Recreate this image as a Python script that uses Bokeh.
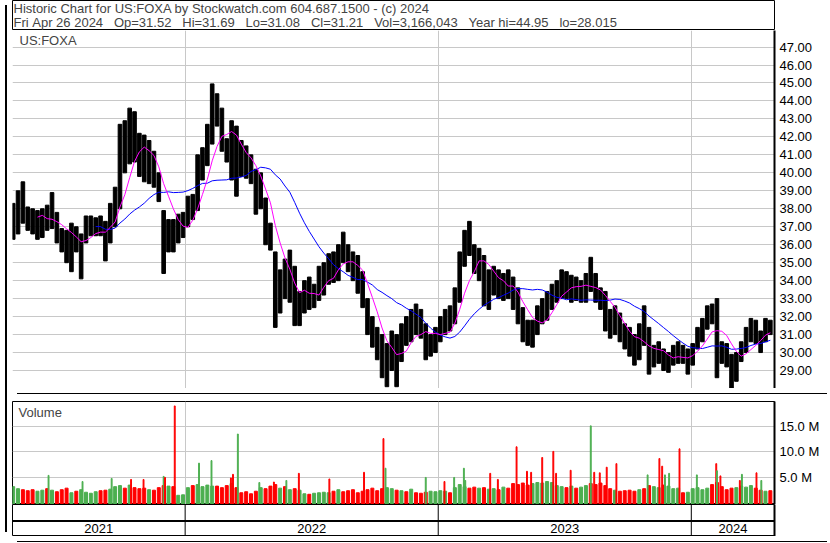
import pandas as pd
from bokeh.plotting import figure
from bokeh.models import Range1d, FixedTicker, PrintfTickFormatter, Label, Span, Div
from bokeh.layouts import column, row
from bokeh.core.properties import value
from bokeh.embed import file_html
from bokeh.resources import INLINE

# ---------------- data (weekly) ----------------
week_start = "2021-04-28"
high = [38.3, 39.0, 39.5, 38.1, 38.0, 37.9, 38.0, 38.2, 38.9, 37.8,
        36.9, 36.8, 37.2, 37.0, 36.6, 37.6, 37.6, 37.5, 37.6, 37.3,
        38.3, 39.2, 42.7, 42.9, 43.6, 43.4, 42.2, 42.1, 41.8, 41.2,
        40.0, 37.9, 37.4, 37.4, 37.7, 37.8, 38.7, 38.8, 41.0, 41.4,
        42.7, 44.95, 44.4, 43.6, 41.9, 42.9, 42.6, 41.8, 41.5, 41.0,
        40.2, 40.0, 38.6, 37.2, 35.6, 34.6, 35.2, 35.7, 34.8, 33.4,
        34.0, 34.2, 33.8, 34.8, 35.0, 35.5, 35.6, 36.0, 36.7, 36.0,
        35.6, 35.4, 34.5, 33.0, 32.0, 31.4, 31.0, 30.5, 31.2, 31.0,
        31.6, 32.0, 32.4, 32.7, 32.4, 31.6, 31.0, 31.4, 32.0, 32.4,
        32.6, 33.6, 35.6, 36.8, 37.3, 36.0, 35.8, 35.4, 34.6, 34.8,
        34.6, 34.4, 34.6, 34.2, 33.6, 32.5, 31.8, 31.8, 32.6, 33.0,
        33.4, 33.8, 34.0, 34.6, 34.5, 34.3, 34.2, 34.0, 34.4, 35.3,
        34.4, 33.6, 33.4, 32.4, 32.6, 32.2, 31.6, 31.4, 31.0, 31.6,
        32.6, 31.4, 30.4, 30.6, 30.2, 30.0, 30.4, 30.6, 30.4, 30.2,
        30.5, 31.4, 31.9, 32.6, 32.7, 33.0, 30.6, 30.5, 29.9, 30.0,
        30.6, 31.4, 31.9, 31.8, 31.2, 31.9, 31.8]
low = [36.3, 36.6, 37.2, 36.8, 36.6, 36.3, 36.4, 36.8, 36.9, 36.1,
       35.6, 35.0, 34.5, 35.6, 34.1, 36.1, 36.5, 36.5, 36.5, 35.1,
       36.1, 37.0, 38.0, 40.0, 40.5, 40.6, 39.8, 39.5, 39.4, 39.2,
       38.4, 34.4, 35.6, 35.6, 36.1, 36.4, 37.0, 37.4, 37.9, 39.6,
       40.4, 41.6, 42.6, 41.2, 40.6, 39.6, 38.7, 39.8, 39.7, 39.4,
       37.7, 38.0, 36.0, 35.7, 31.4, 32.2, 33.0, 32.8, 31.5, 31.5,
       32.2, 32.4, 32.5, 32.9, 33.2, 33.8, 33.9, 34.0, 35.0, 34.5,
       34.0, 33.3, 32.5, 31.0, 30.3, 29.6, 28.6, 28.1, 29.0, 28.1,
       29.5, 30.4, 30.6, 31.0, 30.8, 29.6, 29.8, 30.0, 30.6, 31.0,
       31.2, 31.6, 32.8, 34.8, 35.4, 34.4, 34.0, 32.6, 32.4, 33.2,
       33.0, 32.9, 33.0, 32.4, 31.6, 30.6, 30.4, 30.3, 31.0, 31.6,
       31.8, 32.4, 32.8, 33.0, 33.0, 32.8, 32.9, 32.8, 32.8, 33.4,
       32.8, 32.4, 31.2, 30.8, 31.0, 30.6, 30.2, 29.8, 29.3, 29.6,
       30.4, 28.8, 29.2, 29.4, 29.0, 28.9, 29.3, 29.4, 29.4, 28.8,
       29.3, 30.2, 30.6, 31.3, 31.6, 28.6, 29.4, 29.2, 28.02, 28.4,
       29.5, 30.0, 30.6, 30.5, 30.0, 30.6, 31.0]
close = [37.0, 38.6, 38.0, 37.4, 37.0, 37.2, 37.6, 37.5, 37.8, 36.6,
         36.0, 35.8, 36.4, 36.0, 36.2, 37.0, 37.0, 37.1, 36.9, 36.0,
         37.8, 38.8, 42.0, 41.2, 42.6, 41.4, 41.0, 40.4, 40.8, 39.6,
         38.8, 35.8, 36.8, 36.2, 37.2, 37.4, 38.4, 38.2, 40.6, 41.0,
         42.2, 43.6, 43.2, 41.6, 41.2, 42.0, 41.0, 40.6, 40.4, 39.8,
         38.6, 38.6, 36.6, 36.0, 32.8, 34.0, 33.6, 34.8, 32.0, 32.8,
         33.6, 33.0, 33.5, 34.3, 34.6, 35.0, 34.4, 35.8, 35.5, 35.0,
         34.6, 33.8, 32.8, 31.4, 30.8, 30.2, 29.2, 29.5, 30.6, 29.0,
         31.2, 31.0, 32.0, 31.6, 31.2, 30.0, 30.6, 31.0, 31.6, 32.0,
         31.6, 33.0, 35.2, 36.4, 35.8, 35.0, 35.2, 33.0, 34.0, 34.2,
         33.6, 34.0, 33.4, 33.0, 32.0, 31.0, 30.9, 31.4, 32.2, 32.4,
         33.0, 33.4, 33.6, 34.2, 33.6, 33.8, 33.4, 33.5, 34.0, 33.8,
         33.2, 33.0, 31.6, 31.5, 32.0, 31.0, 30.6, 30.4, 29.8, 31.0,
         30.8, 29.6, 29.8, 30.0, 29.4, 29.6, 29.8, 30.0, 29.6, 29.8,
         30.2, 31.0, 31.6, 32.3, 32.0, 30.2, 30.0, 29.6, 28.8, 29.8,
         30.4, 31.0, 31.4, 31.0, 30.4, 31.6, 31.21]
# typical daily volume of each week, millions
vol_week = [3.2, 2.8, 2.6, 2.4, 2.6, 2.3, 2.5, 2.8, 2.5, 2.2,
            2.6, 2.9, 2.0, 2.3, 2.6, 2.1, 1.9, 2.2, 2.4, 2.5,
            2.7, 3.2, 3.4, 2.9, 3.5, 3.0, 2.8, 2.9, 2.6, 2.5,
            3.0, 3.4, 3.3, 3.2, 1.5, 1.6, 3.0, 3.4, 3.6, 3.2,
            3.5, 3.3, 3.3, 3.0, 3.4, 3.8, 3.0, 2.0, 2.2, 1.8,
            2.3, 3.0, 2.8, 3.3, 3.6, 2.9, 3.2, 2.6, 2.8, 2.5,
            1.8, 1.7, 1.9, 2.0, 2.1, 2.0, 2.3, 2.6, 2.2, 2.4,
            2.6, 2.0, 2.3, 2.6, 2.9, 2.4, 2.8, 3.0, 2.8, 2.5,
            2.4, 2.2, 2.7, 2.0, 1.9, 2.1, 2.3, 2.2, 2.4, 2.3,
            2.0, 3.0, 3.6, 3.2, 2.9, 3.1, 2.9, 3.0, 2.7, 2.8,
            2.6, 3.1, 2.9, 3.8, 3.6, 3.9, 3.5, 3.8, 4.0, 3.9,
            4.2, 4.0, 3.4, 3.2, 3.0, 3.3, 2.9, 3.1, 3.4, 3.8,
            3.6, 3.9, 3.4, 2.8, 2.5, 2.3, 2.4, 2.5, 2.3, 2.6,
            2.8, 3.4, 3.2, 3.0, 3.5, 3.3, 2.8, 2.9, 2.0, 2.1,
            2.8, 3.0, 2.6, 2.9, 3.6, 4.0, 3.2, 2.6, 2.9, 3.0,
            3.3, 3.1, 3.4, 2.9, 2.5, 2.3, 2.4]
# single days with heavy volume, millions
spike_dates = ["2021-06-18", "2021-08-06", "2021-09-17", "2021-10-15", "2021-11-02",
               "2021-12-01", "2021-12-03", "2021-12-17", "2022-01-21", "2022-02-08",
               "2022-03-08", "2022-03-11", "2022-03-18", "2022-04-18", "2022-05-09",
               "2022-05-27", "2022-06-14", "2022-07-28", "2022-09-16", "2022-10-14",
               "2022-10-17", "2022-12-14", "2023-01-10", "2023-01-24", "2023-02-07",
               "2023-02-09", "2023-03-17", "2023-03-28", "2023-04-24", "2023-05-09",
               "2023-05-15", "2023-05-31", "2023-06-16", "2023-06-20", "2023-07-11",
               "2023-08-09", "2023-08-14", "2023-08-22", "2023-09-01", "2023-09-15",
               "2023-10-30", "2023-11-16", "2023-11-20", "2023-11-24", "2023-11-30",
               "2023-12-15", "2024-01-09", "2024-02-06", "2024-02-07", "2024-02-12",
               "2024-03-11", "2024-03-14", "2024-04-04", "2024-04-11"]
spike_vol = [5.4, 4.2, 4.8, 4.6, 4.6, 5.2, 5.0, 19.0, 7.8, 8.3,
             4.9, 5.6, 13.5, 4.0, 4.1, 4.4, 5.8, 4.7, 6.0, 12.6,
             6.8, 5.0, 4.2, 5.0, 6.8, 4.4, 5.8, 4.6, 11.0, 6.2,
             6.0, 8.9, 10.1, 5.8, 6.4, 15.1, 6.0, 5.9, 7.0, 7.7,
             5.5, 8.7, 7.2, 5.5, 5.8, 10.6, 5.5, 7.7, 6.3, 5.3,
             4.4, 5.6, 5.9, 4.4]
spike_up = [1, 1, 1, 0, 0, 1, 0, 0, 1, 1,
            0, 0, 1, 1, 0, 1, 0, 0, 0, 0,
            1, 1, 0, 1, 1, 1, 0, 0, 0, 0,
            0, 0, 0, 0, 0, 1, 0, 0, 0, 0,
            1, 0, 0, 1, 1, 0, 1, 0, 1, 0,
            0, 1, 0, 1]
year_starts = ["2022-01-01", "2023-01-01", "2024-01-01"]
year_labels = ["2021", "2022", "2023", "2024"]
price_ticks = [29, 30, 31, 32, 33, 34, 35, 36, 37, 38, 39, 40, 41, 42, 43, 44, 45, 46, 47]
vol_ticks = [5, 10, 15]
header_1 = "Historic Chart for US:FOXA by Stockwatch.com 604.687.1500 - (c) 2024"
header_2 = ("Fri Apr 26 2024   Op=31.52   Hi=31.69   Lo=31.08   Cl=31.21   "
            "Vol=3,166,043   Year hi=44.95   lo=28.015")

# ---------------- derived ----------------
weeks = pd.date_range(week_start, periods=len(close), freq="7D")
cs = pd.Series(close)
ma_short = cs.rolling(6).mean()
ma_long = cs.rolling(18).mean()
wk_up = [True] + [close[i] >= close[i - 1] for i in range(1, len(close))]
wk_col = ["#4caf50" if u else "#ff0000" for u in wk_up]
sp_x = pd.to_datetime(spike_dates)
sp_col = ["#4caf50" if u else "#ff0000" for u in spike_up]
ys = pd.to_datetime(year_starts)
ys_ms = [int(t.value // 10**6) for t in ys]

FONT = "Liberation Sans"
W = 810
RB = 46
DAY = 86400000
x0 = pd.Timestamp("2021-04-27")
x1 = pd.Timestamp("2024-04-30")
xr = Range1d(x0, x1)
GRID = "#c8c8c8"


def make_fig(h, yr, **kw):
    opts = dict(width=W, height=h, x_range=xr, y_range=yr, x_axis_type="datetime",
                x_axis_location=None, y_axis_location="right", toolbar_location=None,
                output_backend="svg", min_border_left=0, min_border_right=RB,
                min_border_top=0, min_border_bottom=0, background_fill_color="white",
                border_fill_color="white")
    opts.update(kw)
    p = figure(**opts)
    ax = p.yaxis[0]
    ax.axis_line_width = 2
    ax.axis_line_color = "black"
    ax.major_tick_out = 0
    ax.major_tick_in = 0
    ax.minor_tick_out = 0
    ax.minor_tick_in = 0
    ax.major_label_standoff = 5
    ax.major_label_text_font = FONT
    ax.major_label_text_font_size = "13px"
    ax.major_label_text_color = "black"
    p.xgrid.ticker = FixedTicker(ticks=ys_ms)
    p.xgrid.grid_line_color = GRID
    p.ygrid.grid_line_color = GRID
    return p


# header
hd = figure(width=W, height=30, x_range=Range1d(0, 1), y_range=Range1d(0, 1),
            x_axis_location=None, y_axis_location=None, toolbar_location=None,
            output_backend="svg", min_border=0, outline_line_color="black",
            outline_line_width=1)
hd.grid.visible = False
hd.add_layout(Label(x=1, y=22, x_units="screen", y_units="screen", text=header_1.replace("  ", "\u00a0\u00a0"),
                    text_font=FONT, text_font_size="13px", text_baseline="middle"))
hd.add_layout(Label(x=1, y=8, x_units="screen", y_units="screen",
                    text=header_2.replace(" ", "\u00a0"),
                    text_font=FONT, text_font_size="13px", text_baseline="middle"))

# price
pp = make_fig(358, Range1d(28.0, 47.92), outline_line_color=None)
pp.yaxis.ticker = FixedTicker(ticks=price_ticks)
pp.yaxis.formatter = PrintfTickFormatter(format="%.2f")
pp.vbar(x=weeks, top=high, bottom=low, width=5.2 * DAY, color="black")
pp.line(weeks, ma_long, color="#0000ff", line_width=1)
pp.line(weeks, ma_short, color="#ff00ff", line_width=1)
pp.add_layout(Label(x=7, y=348, x_units="screen", y_units="screen", text="US:FOXA",
                    text_font=FONT, text_font_size="13px", text_baseline="middle"))

sep = Div(width=W, height=1, styles={"background-color": "black"})

# volume
vp = make_fig(105, Range1d(-0.3, 19.87), outline_line_color="black", min_border_top=2)
vp.yaxis.ticker = FixedTicker(ticks=vol_ticks)
vp.yaxis.formatter = PrintfTickFormatter(format="%.1f M")
vp.vbar(x=weeks, top=vol_week, bottom=-0.3, width=4.3 * DAY, color=wk_col)
vp.vbar(x=sp_x, top=spike_vol, bottom=-0.3, width=1.3 * DAY, color=sp_col)
vp.add_layout(Label(x=6, y=92, x_units="screen", y_units="screen", text="Volume",
                    text_font=FONT, text_font_size="13px", text_baseline="middle"))

# date band
dp = make_fig(32, Range1d(0, 32), outline_line_color="black")
dp.yaxis.ticker = FixedTicker(ticks=[])
dp.grid.visible = False
for t in ys:
    dp.add_layout(Span(location=t, dimension="height", line_color="black", line_width=1))
dp.add_layout(Span(location=15.5, dimension="width", line_color="black", line_width=2))
bounds = [x0] + list(ys) + [x1]
mids = [bounds[i] + (bounds[i + 1] - bounds[i]) / 2 for i in range(len(year_labels))]
dp.text(x=mids, y=[8] * len(mids), text=year_labels, text_align="center",
        text_baseline="middle", text_font=value(FONT), text_font_size="13px", text_color="black")

bot = Div(width=W, height=1, styles={"background-color": "black"})
left = Div(width=2, height=527, styles={"background-color": "black"})
right = Div(width=2, height=527, styles={"background-color": "black"})

layout = row(left, column(hd, pp, sep, vp, dp, bot), right)
open("out.html", "w").write(file_html(layout, INLINE))
